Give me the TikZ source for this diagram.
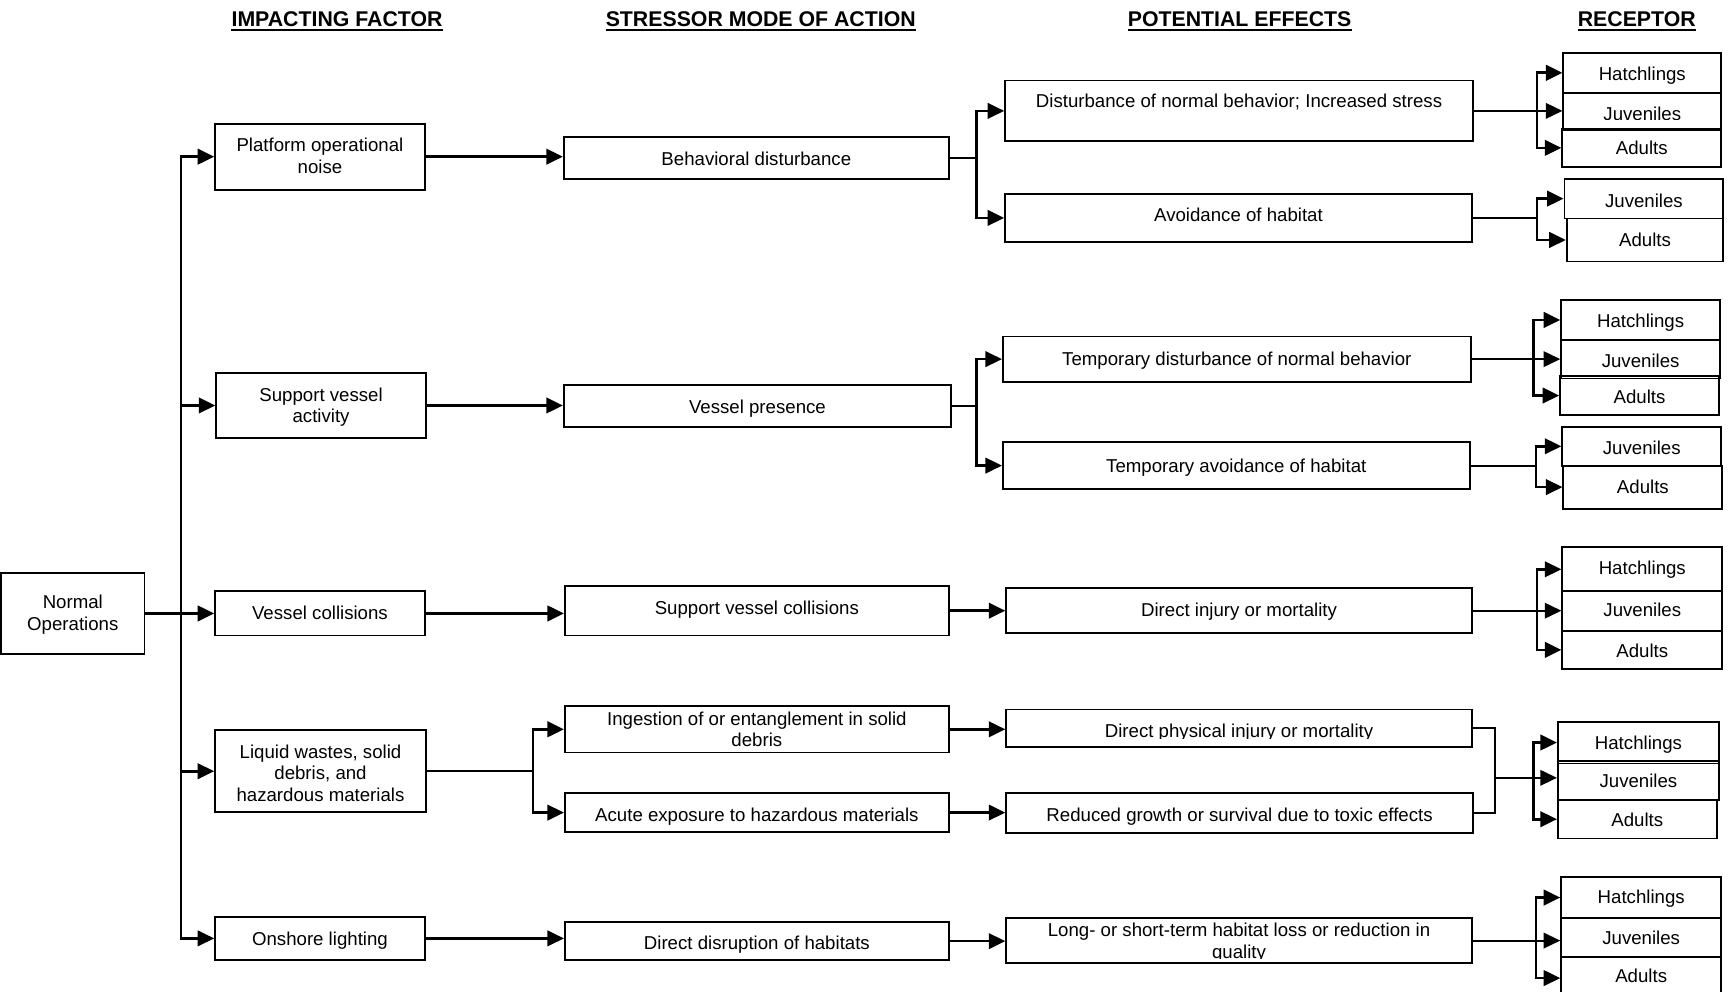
\documentclass[tikz,border=0pt]{standalone}
\usepackage{fontspec}
\setmainfont{Liberation Sans}
\usetikzlibrary{arrows.meta,calc}

% box from corners (x1,y1)-(x2,y2), text centred at height #6
\newcommand\bx[7]{%
  \node[box, minimum width={(#4-#2)*1pt}, minimum height={(#5-#3)*1pt}] (#1) at ({(#2+#4)/2},{(#3+#5)/2}) {};
  \node[txt] (#1-t) at ({(#2+#4)/2},#6) {#7};}
% same, but the text is cut off at height #8
\newcommand\bxc[8]{%
  \node[box, minimum width={(#4-#2)*1pt}, minimum height={(#5-#3)*1pt}] (#1) at ({(#2+#4)/2},{(#3+#5)/2}) {};
  \begin{scope}
    \clip (#2,#3) rectangle (#4,#8);
    \node[txt] (#1-t) at ({(#2+#4)/2},#6) {#7};
  \end{scope}}

\begin{document}
\begin{tikzpicture}[x=1pt,y=-1pt,
  box/.style={draw, line width=1.7pt, rectangle, inner sep=0pt},
  txt/.style={font=\fontsize{16.9}{19.5}\selectfont, align=center, inner sep=0pt, text depth=0pt},
  hdr/.style={font=\fontsize{19.3}{22}\selectfont\bfseries, inner sep=0pt, anchor=base},
  conn/.style={line width=2.4pt},
  fineline/.style={line width=1.7pt},
  arr/.style={conn, -{Triangle[length=15pt,width=14pt]}},
  finearr/.style={fineline, -{Triangle[length=15pt,width=14pt]}},
  uline/.style={line width=1.9pt}]
\useasboundingbox (0,0) rectangle (1568,899);
\fill[white] (0,0) rectangle (1568,899);

% column headings
\node[hdr] (h1) at (305.5,24) {IMPACTING FACTOR};
\node[hdr] (h2) at (689.5,24) {STRESSOR MODE OF ACTION};
\node[hdr] (h3) at (1123.5,24) {POTENTIAL EFFECTS};
\node[hdr] (h4) at (1483.5,24) {RECEPTOR};
\foreach \h in {h1,h2,h3,h4}
  \draw[uline] ([yshift=-3.5pt]\h.base west) -- ([yshift=-3.5pt]\h.base east);

% source
\bx{normal}{1}{519}{131}{593}{555.5}{Normal\\Operations}

% impacting factors
\bx{platform}{195}{112}{385}{172}{141}{Platform operational\\noise}
\bx{support}{196}{338}{386}{397}{367.5}{Support vessel\\activity}
\bx{vcol}{195}{536}{385}{576}{555}{Vessel collisions}
\bx{liquid}{195}{662}{386}{736}{700.5}{Liquid wastes, solid\\debris, and\\hazardous materials}
\bx{onshore}{195}{831}{385}{870}{851}{Onshore lighting}

% stressor modes of action
\bx{behav}{511}{124}{860}{162}{144}{Behavioral disturbance}
\bx{vpres}{511}{349}{862}{387}{369}{Vessel presence}
\bx{svcol}{512}{531}{860}{576}{551}{Support vessel collisions}
\bx{ingest}{512}{640}{860}{682}{661}{Ingestion of or entanglement in solid\\debris}
\bx{acute}{512}{719}{860}{754}{738}{Acute exposure to hazardous materials}
\bx{disrupt}{512}{836}{860}{870}{854}{Direct disruption of habitats}

% potential effects
\bx{dist}{911}{73}{1335}{128}{91}{Disturbance of normal behavior; Increased stress}
\bx{avoid}{911}{176}{1334}{219}{195}{Avoidance of habitat}
\bx{tdist}{909}{305}{1333}{346}{325}{Temporary disturbance of normal behavior}
\bx{tavoid}{909}{401}{1332}{443}{422}{Temporary avoidance of habitat}
\bx{dinj}{912}{533}{1334}{574}{553}{Direct injury or mortality}
\bxc{dphys}{912}{643}{1334}{677}{662}{Direct physical injury or mortality}{669}
\bx{reduced}{912}{719}{1335}{755}{738}{Reduced growth or survival due to toxic effects}
\bxc{longst}{912}{832}{1334}{873}{852.5}{Long- or short-term habitat loss or reduction in\\quality}{869}

% receptors
\bx{h1}{1417}{48}{1560}{84}{67}{Hatchlings}
\bxc{j1}{1417}{84}{1560}{118}{103}{Juveniles}{108}
\bx{a1}{1416}{117}{1560}{151}{134}{Adults}
\bx{j2}{1418}{162}{1562}{198}{182}{Juveniles}
\bx{a2}{1420}{198}{1562}{237}{217}{Adults}
\bx{h3}{1415}{272}{1559}{308}{291}{Hatchlings}
\bx{j3}{1415}{308}{1559}{343}{327}{Juveniles}
\bx{a3}{1414}{341}{1558}{376}{360}{Adults}
\bx{j4}{1416}{387}{1560}{422}{406}{Juveniles}
\bx{a4}{1417}{422}{1561}{461}{441}{Adults}
\bx{h5}{1416}{496}{1561}{536}{515}{Hatchlings}
\bx{j5}{1416}{536}{1561}{572}{553}{Juveniles}
\bx{a5}{1416}{572}{1561}{606}{590}{Adults}
\bx{h6}{1412}{654}{1558}{692}{673}{Hatchlings}
\bx{j6}{1412}{690}{1558}{725}{708}{Juveniles}
\bx{a6}{1412}{725}{1556}{760}{743}{Adults}
\bx{h7}{1415}{795}{1560}{832}{813}{Hatchlings}
\bx{j7}{1415}{832}{1560}{867}{850}{Juveniles}
\bx{a7}{1415}{867}{1560}{906}{884}{Adults}

% source to impacting factors
\coordinate (tr) at (164,556);
\draw[arr] (normal.east) -- (vcol.west);
\draw[arr] (tr) |- (platform.west);
\draw[arr] (tr) |- (support.west);
\draw[arr] (tr) |- (liquid.west);
\draw[arr] (tr) |- (onshore.west);

% impacting factors to stressors
\draw[arr] (platform.east) -- (platform.east -| behav.west);
\draw[arr] (support.east) -- (support.east -| vpres.west);
\draw[arr] (vcol.east) -- (vcol.east -| svcol.west);
\draw[arr] (onshore.east) -- (onshore.east -| disrupt.west);
\coordinate (ls) at (483,699);
\draw[fineline] (liquid.east) -- (ls);
\draw[arr] (ls) |- (ingest.west);
\draw[arr] (ls) |- (acute.west);

% stressors to effects
\coordinate (bs) at (885,143);
\draw[fineline] (behav.east) -- (bs);
\draw[arr] (bs) |- (dist.west);
\draw[arr] (bs) |- (avoid.west);
\coordinate (vs) at (885,368);
\draw[fineline] (vpres.east) -- (vs);
\draw[arr] (vs) |- (tdist.west);
\draw[arr] (vs) |- (tavoid.west);
\draw[arr] (svcol.east) -- (svcol.east -| dinj.west);
\draw[arr] (ingest.east) -- (ingest.east -| dphys.west);
\draw[arr] (acute.east) -- (acute.east -| reduced.west);
\draw[arr] (disrupt.east) -- (disrupt.east -| longst.west);

% effects to receptors
\coordinate (s1) at (1393,100.5);
\draw[finearr] (dist.east) -- (dist.east -| j1.west);
\draw[arr] (s1) |- (h1.west);
\draw[arr] (s1) |- (a1.west);

\coordinate (s2) at (1393,197.5);
\draw[fineline] (avoid.east) -- (s2);
\draw[arr] (s2) |- (j2.west);
\draw[arr] (s2) |- (a2.west);

\coordinate (s3) at (1390,325.5);
\draw[finearr] (tdist.east) -- (tdist.east -| j3.west);
\draw[arr] (s3) |- (h3.west);
\draw[arr] (s3) |- (a3.west);

\coordinate (s4) at (1392,422);
\draw[fineline] (tavoid.east) -- (s4);
\draw[arr] (s4) |- (j4.west);
\draw[arr] (s4) |- (a4.west);

\coordinate (s5) at (1393,553.5);
\draw[finearr] (dinj.east) -- (dinj.east -| j5.west);
\draw[arr] (s5) |- (h5.west);
\draw[arr] (s5) |- (a5.west);

\coordinate (m6) at (1355,705);
\coordinate (s6) at (1390,705);
\draw[fineline] (dphys.east) -| (m6);
\draw[fineline] (reduced.east) -| (m6);
\draw[finearr] (m6) -- (m6 -| j6.west);
\draw[arr] (s6) |- (h6.west);
\draw[arr] (s6) |- (a6.west);

\coordinate (s7) at (1392,852.5);
\draw[finearr] (longst.east) -- (longst.east -| j7.west);
\draw[arr] (s7) |- (h7.west);
\draw[arr] (s7) |- (a7.west);
\end{tikzpicture}
\end{document}
